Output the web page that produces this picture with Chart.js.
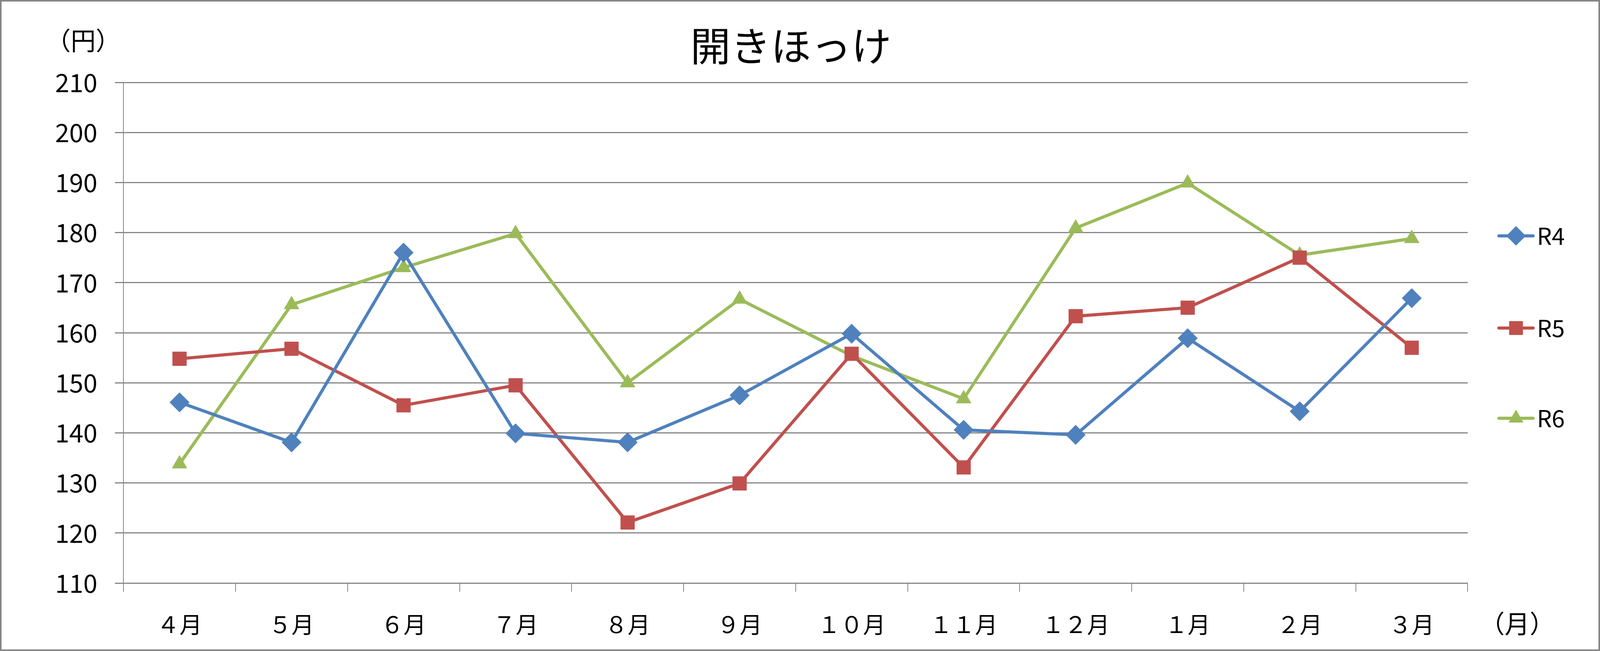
<!DOCTYPE html>
<html>
<head>
<meta charset="utf-8">
<script src="https://cdn.jsdelivr.net/npm/chart.js"></script>
<style>
  html, body { margin: 0; padding: 0; background: #fff; overflow: hidden; }
  canvas { display: block; }
</style>
</head>
<body>
<canvas id="chart"></canvas>
<script>
// data
var months = ['４月', '５月', '６月', '７月', '８月', '９月', '１０月', '１１月', '１２月', '１月', '２月', '３月'];
var r4 = [146.1, 138.1, 176.0, 139.9, 138.1, 147.5, 159.8, 140.6, 139.6, 158.9, 144.3, 166.9];
var r5 = [154.8, 156.8, 145.5, 149.5, 122.1, 129.9, 155.8, 133.1, 163.3, 165.0, 175.0, 157.0];
var r6 = [133.8, 165.6, 173.0, 179.8, 150.0, 166.7, 155.4, 146.8, 180.9, 189.9, 175.5, 178.8];
var seriesNames = ['R4', 'R5', 'R6'];
var yMin = 110, yMax = 210, yStep = 10;

var FONT = "'Noto Sans CJK JP', 'Noto Sans', sans-serif";
var GRID = '#868686';

// the layout was measured on a 4210x1667 picture; fit it to the window we get
var W = window.innerWidth || 4210;
var H = window.innerHeight || 1667;
var sx = W / 4210, sy = H / 1667;
var fs = Math.min(sx, sy);

var canvas = document.getElementById('chart');
canvas.width = W;
canvas.height = H;

function drawMarker(ctx, style, x, y, r, color) {
	ctx.save();
	ctx.fillStyle = color;
	ctx.beginPath();
	if (style === 'rectRot') {
		ctx.moveTo(x - r, y);
		ctx.lineTo(x, y - r);
		ctx.lineTo(x + r, y);
		ctx.lineTo(x, y + r);
	} else if (style === 'rect') {
		var s = r * Math.SQRT1_2;
		ctx.rect(x - s, y - s, 2 * s, 2 * s);
	} else {
		ctx.moveTo(x, y - r);
		ctx.lineTo(x + r * Math.sin(Math.PI * 2 / 3), y - r * Math.cos(Math.PI * 2 / 3));
		ctx.lineTo(x + r * Math.sin(Math.PI * 4 / 3), y - r * Math.cos(Math.PI * 4 / 3));
	}
	ctx.closePath();
	ctx.fill();
	ctx.restore();
}

var decor = {
	id: 'decor',
	beforeDraw: function(chart) {
		var ctx = chart.ctx;
		ctx.save();
		ctx.fillStyle = '#fff';
		ctx.fillRect(0, 0, chart.width, chart.height);
		ctx.restore();
	},
	afterDraw: function(chart) {
		var ctx = chart.ctx;
		ctx.save();
		ctx.fillStyle = '#000';
		ctx.textBaseline = 'middle';

		// title
		ctx.textAlign = 'center';
		ctx.font = Math.round(106 * fs) + 'px ' + FONT;
		ctx.fillText('開きほっけ', 2081 * sx, 118 * sy);

		// axis units
		ctx.font = Math.round(66 * fs) + 'px ' + FONT;
		ctx.fillText('（円）', 219 * sx, 104 * sy);
		ctx.fillText('（月）', 3992 * sx, 1597 * sy);

		// legend
		ctx.textAlign = 'left';
		ctx.font = Math.round(62 * fs) + 'px ' + FONT;
		var ys = [604, 840, 1071];
		chart.data.datasets.forEach(function(ds, i) {
			var y = ys[i] * sy;
			ctx.strokeStyle = ds.borderColor;
			ctx.lineWidth = 8;
			ctx.lineCap = 'round';
			ctx.beginPath();
			ctx.moveTo(3944 * sx, y);
			ctx.lineTo(4034 * sx, y);
			ctx.stroke();
			drawMarker(ctx, ds.pointStyle, 3989 * sx, y, ds.pointRadius, ds.borderColor);
			ctx.fillStyle = '#000';
			ctx.fillText(ds.label, 4044 * sx, y);
		});

		// outer frame
		ctx.strokeStyle = GRID;
		ctx.lineWidth = 4;
		ctx.strokeRect(2, 2, chart.width - 4, chart.height - 4);
		ctx.restore();
	}
};

function makeSet(label, data, color, style, radius) {
	return {
		label: label,
		data: data,
		borderColor: color,
		backgroundColor: color,
		borderWidth: 8,
		tension: 0,
		pointStyle: style,
		pointRadius: radius,
		pointHoverRadius: radius,
		pointBorderWidth: 1,
		pointBackgroundColor: color,
		pointBorderColor: color
	};
}

var lineChart = new Chart(canvas.getContext('2d'), {
	type: 'line',
	data: {
		labels: months,
		datasets: [
			makeSet(seriesNames[0], r4, '#4F81BD', 'rectRot', 25),
			makeSet(seriesNames[1], r5, '#C0504D', 'rect', 25),
			makeSet(seriesNames[2], r6, '#9BBB59', 'triangle', 22)
		]
	},
	options: {
		responsive: false,
		animation: false,
		devicePixelRatio: 1,
		layout: { padding: { top: 211 * sy, right: 348 * sx, bottom: 0, left: 0 } },
		plugins: {
			legend: { display: false },
			title: { display: false },
			tooltip: { enabled: false }
		},
		scales: {
			x: {
				offset: true,
				grid: { offset: true, drawOnChartArea: false, drawTicks: true, tickLength: 22, color: GRID, lineWidth: 2 },
				border: { display: true, color: GRID, width: 3 },
				ticks: { color: '#000', font: { family: FONT, size: Math.round(60 * fs) }, padding: 49, maxRotation: 0, autoSkip: false },
				afterFit: function(scale) { scale.height = 174 * sy; }
			},
			y: {
				min: yMin,
				max: yMax,
				grid: { color: GRID, lineWidth: 3, tickLength: 22 },
				border: { display: true, color: GRID, width: 2 },
				ticks: { stepSize: yStep, color: '#000', font: { family: FONT, size: Math.round(67 * fs) }, padding: 46 * sx },
				afterFit: function(scale) { scale.width = 325 * sx; }
			}
		}
	},
	plugins: [decor]
});
</script>
</body>
</html>
